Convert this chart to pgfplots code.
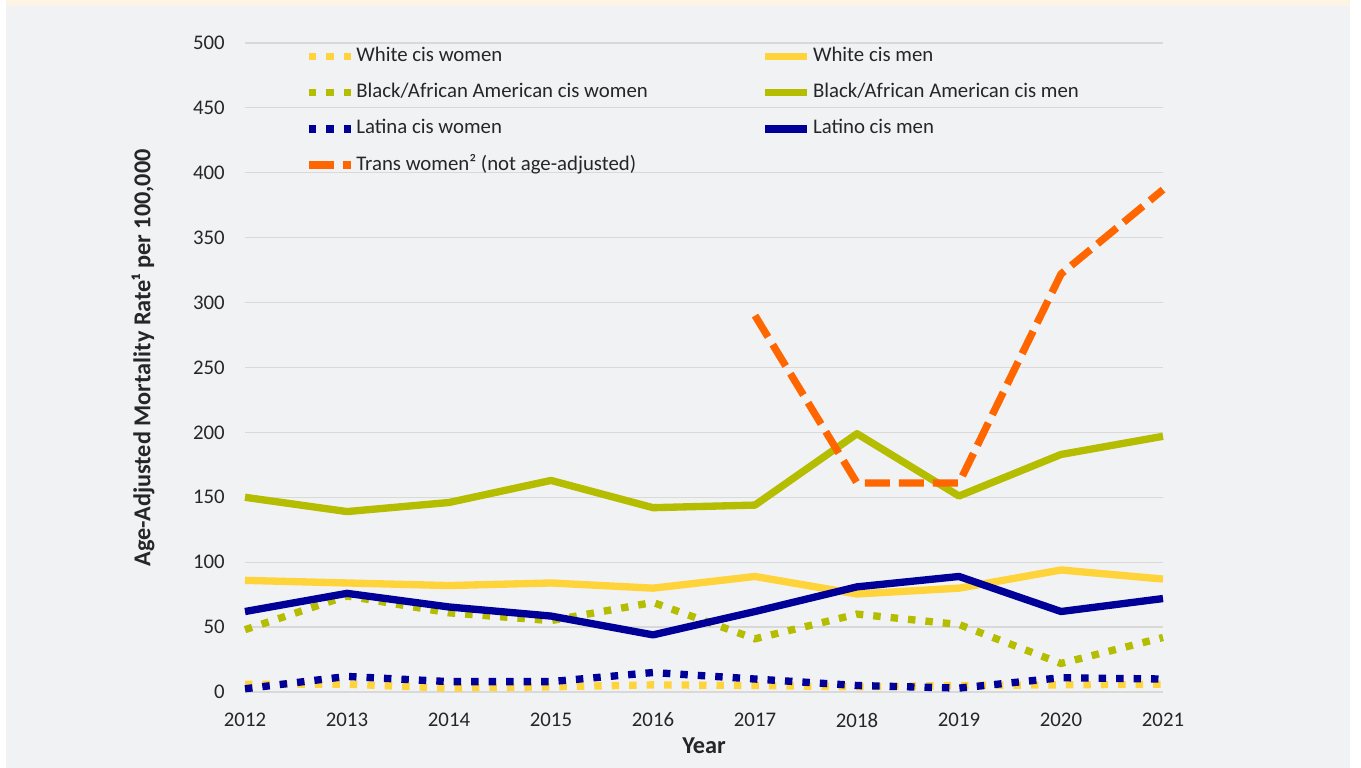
\documentclass[border=0pt]{standalone}
\usepackage{pgfplots}
\pgfplotsset{compat=1.18}
\usepackage{fontspec}
\setmainfont{Carlito}
\definecolor{cYel}{HTML}{FFD43B}
\definecolor{cOli}{HTML}{B5BD00}
\definecolor{cNavy}{HTML}{000099}
\definecolor{cOra}{HTML}{FF6600}
\definecolor{cBg}{HTML}{F1F2F4}
\definecolor{cPeach}{HTML}{FEF4E6}
\definecolor{cGrid}{HTML}{D9D9D9}
\definecolor{cTxt}{HTML}{262626}
\begin{document}
\begin{tikzpicture}
\path[use as bounding box] (0,0) rectangle (1020.75pt,576pt);
\fill[white] (0,0) rectangle (1020.75pt,576pt);
\fill[cBg] (4.5pt,0) rectangle (1012.5pt,571.5pt);
\fill[cPeach] (4.5pt,571.5pt) rectangle (1012.5pt,576pt);
\begin{axis}[
  at={(183.75pt,57pt)}, anchor=south west,
  scale only axis, width=688.5pt, height=486.75pt,
  xmin=2012, xmax=2021, ymin=0, ymax=500,
  xtick={2012,2013,...,2021}, ytick={0,50,...,500},
  /pgf/number format/1000 sep={},
  /pgf/number format/assume math mode=true,
  axis line style={draw=none},
  major tick length=0pt,
  ymajorgrids, grid style={cGrid, line width=0.9pt},
  clip=false,
  tick label style={font=\fontsize{15.6}{18}\selectfont, text=cTxt, inner sep=0pt},
  x tick label style={yshift=-15.5pt, anchor=north},
  y tick label style={xshift=-15pt, anchor=east},
  xlabel={Year},
  ylabel={Age-Adjusted Mortality Rate¹ per 100,000},
  every axis x label/.style={at={(axis description cs:0.5,-0.083)}, anchor=center, font=\bfseries\fontsize{18.2}{21}\selectfont, text=cTxt},
  every axis y label/.style={at={(axis description cs:-0.111,0.515)}, rotate=90, anchor=center, font=\bfseries\fontsize{18.2}{21}\selectfont, text=cTxt},
  legend image code/.code={\draw[#1] (0pt,0pt) -- (31.5pt,0pt);},
  legend columns=2,
  legend cell align=left,
  legend style={at={(rel axis cs:0.0654,1)}, anchor=north west, yshift=-3.5pt,
    draw=none, fill=none, inner sep=0pt, outer sep=0pt,
    font=\fontsize{15.6}{18}\selectfont, text=cTxt,
    row sep=13.6pt, column sep=0pt,
    nodes={inner sep=0pt, text height=10.5pt, text depth=3pt},
    /tikz/every odd column/.append style={column sep=1.5pt}},
]
% White cis women
\addplot[cYel, line width=5.5pt, dash pattern=on 5.6pt off 7.5pt] coordinates {
(2012,6) (2013,6) (2014,3) (2015,4) (2016,5.5) (2017,5) (2018,4) (2019,5) (2020,5.5) (2021,6)};
\addlegendentry{\makebox[304pt][l]{White cis women}}
% White cis men
\addplot[cYel, line width=5.5pt, line join=round] coordinates {
(2012,86) (2013,84) (2014,82) (2015,84) (2016,80) (2017,89) (2018,75.5) (2019,80) (2020,94) (2021,87)};
\addlegendentry{White cis men}
% Black women
\addplot[cOli, line width=5.5pt, dash pattern=on 5.6pt off 7.5pt] coordinates {
(2012,48) (2013,74) (2014,61) (2015,55) (2016,69) (2017,41) (2018,60) (2019,52) (2020,22) (2021,42)};
\addlegendentry{\makebox[304pt][l]{Black/African American cis women}}
% Black men
\addplot[cOli, line width=5.5pt, line join=round] coordinates {
(2012,150) (2013,139) (2014,146) (2015,163) (2016,142) (2017,144) (2018,199) (2019,151) (2020,183) (2021,197)};
\addlegendentry{Black/African American cis men}
% Latina women
\addplot[cNavy, line width=5.5pt, dash pattern=on 5.6pt off 7.5pt] coordinates {
(2012,2.5) (2013,12) (2014,8) (2015,8) (2016,15) (2017,10) (2018,5) (2019,3) (2020,11) (2021,10)};
\addlegendentry{\makebox[304pt][l]{Latina cis women}}
% Latino men
\addplot[cNavy, line width=5.5pt, line join=round] coordinates {
(2012,62) (2013,76) (2014,65.5) (2015,58.5) (2016,44) (2017,62) (2018,81) (2019,89) (2020,62) (2021,72)};
\addlegendentry{Latino cis men}
% Trans women
\addplot[cOra, line width=5.5pt, dash pattern=on 18.75pt off 6.75pt] coordinates {
(2017,290) (2018,161) (2019,161) (2020,322) (2021,387)};
\addlegendentry{Trans women² (not age-adjusted)}
\end{axis}
\end{tikzpicture}
\end{document}
